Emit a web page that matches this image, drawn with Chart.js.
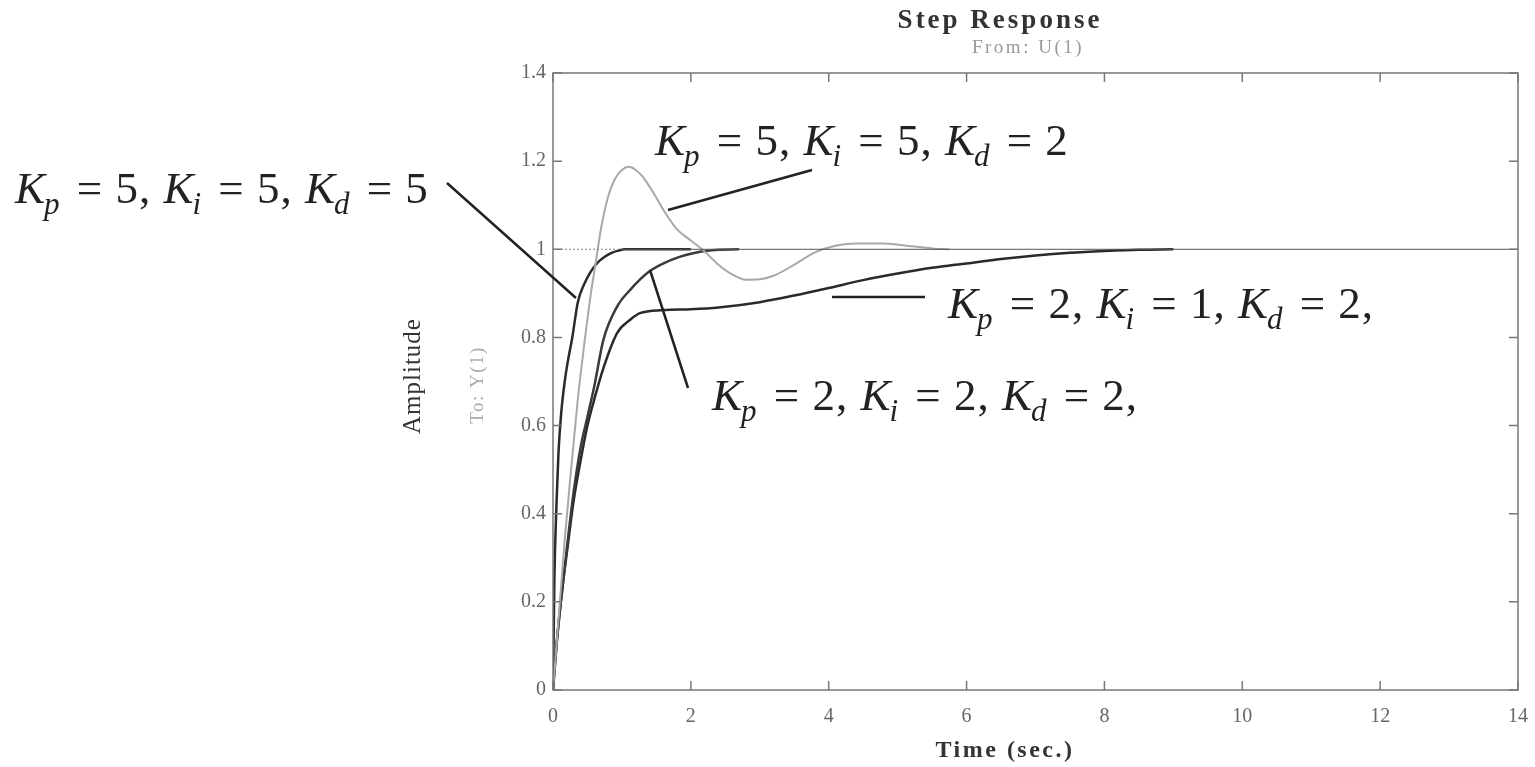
<!DOCTYPE html>
<html>
<head>
<meta charset="utf-8">
<script src="https://cdn.jsdelivr.net/npm/chart.js@4.4.1/dist/chart.umd.min.js"></script>
<style>
  html, body { margin: 0; padding: 0; background: #fff; }
  #wrap { width: 1535px; height: 767px; }
</style>
</head>
<body>
<div id="wrap"><canvas id="step-chart"></canvas></div>
<script>
// Kp=5, Ki=5, Kd=5
var t_555 = [0, 0.02, 0.05, 0.08, 0.12, 0.17, 0.22, 0.28, 0.36, 0.45, 0.55, 0.65, 0.75, 0.85, 0.95, 1.05, 1.5, 2.0];
var y_555 = [0, 0.25, 0.42, 0.54, 0.63, 0.70, 0.75, 0.80, 0.88, 0.92, 0.95, 0.97, 0.983, 0.992, 0.997, 1.0, 1.0, 1.0];

// Kp=5, Ki=5, Kd=2
var t_552 = [0, 0.05, 0.1, 0.17, 0.25, 0.36, 0.45, 0.55, 0.62, 0.7, 0.8, 0.9, 1.0, 1.1, 1.2, 1.3, 1.45, 1.6, 1.8, 2.0, 2.2, 2.4, 2.6, 2.8, 3.0, 3.2, 3.5, 3.8, 4.1, 4.4, 4.8, 5.2, 5.5, 5.75];
var y_552 = [0, 0.1, 0.2, 0.34, 0.48, 0.66, 0.78, 0.9, 0.97, 1.05, 1.12, 1.16, 1.18, 1.187, 1.18, 1.165, 1.13, 1.09, 1.045, 1.02, 0.995, 0.965, 0.943, 0.931, 0.932, 0.94, 0.965, 0.993, 1.008, 1.013, 1.013, 1.007, 1.002, 1.0];

// Kp=2, Ki=2, Kd=2
var t_222 = [0, 0.05, 0.1, 0.15, 0.2, 0.3, 0.4, 0.5, 0.6, 0.73, 0.93, 1.12, 1.4, 1.7, 2.0, 2.3, 2.7];
var y_222 = [0, 0.1, 0.18, 0.25, 0.32, 0.45, 0.55, 0.62, 0.69, 0.794, 0.87, 0.908, 0.95, 0.975, 0.99, 0.998, 1.0];

// Kp=2, Ki=1, Kd=2
var t_212 = [0, 0.05, 0.1, 0.15, 0.2, 0.3, 0.4, 0.5, 0.6, 0.73, 0.93, 1.12, 1.26, 1.6, 2.0, 2.4, 3.0, 3.5, 4.0, 4.5, 5.0, 5.5, 6.0, 6.5, 7.0, 7.5, 8.0, 8.5, 9.0];
var y_212 = [0, 0.1, 0.18, 0.25, 0.31, 0.43, 0.52, 0.6, 0.66, 0.73, 0.81, 0.84, 0.855, 0.862, 0.864, 0.868, 0.88, 0.895, 0.912, 0.93, 0.945, 0.958, 0.968, 0.978, 0.986, 0.992, 0.996, 0.999, 1.0];

// steady state reference (dotted start, solid after)
var t_ref_dot = [0, 1];
var y_ref_dot = [1, 1];
var t_ref = [1, 14];
var y_ref = [1, 1];

var x_ticks = [0, 2, 4, 6, 8, 10, 12, 14];
var y_ticks = [0, 0.2, 0.4, 0.6, 0.8, 1, 1.2, 1.4];

var toPoints = function(ts, ys)
{
	var pts = [];
	for (var i = 0; i < ts.length; i++)
		pts.push({x: ts[i], y: ys[i]});
	return pts;
};

var serif = '"Liberation Serif", "DejaVu Serif", serif';

// draw "K_p = 5, K_i = 5, K_d = 2" style labels
var drawGains = function(ctx, x, y, size, vals, trail)
{
	var subs = ['p', 'i', 'd'];
	ctx.save();
	ctx.fillStyle = '#222';
	ctx.textBaseline = 'alphabetic';
	ctx.textAlign = 'left';
	ctx.letterSpacing = '1px';
	for (var k = 0; k < 3; k++)
	{
		ctx.font = 'italic ' + size + 'px ' + serif;
		ctx.fillText('K', x, y);
		x += ctx.measureText('K').width;
		ctx.font = 'italic ' + Math.round(size * 0.7) + 'px ' + serif;
		ctx.fillText(subs[k], x - 2, y + size * 0.24);
		x += ctx.measureText(subs[k]).width + 2;
		ctx.font = size + 'px ' + serif;
		var rest = ' = ' + vals[k] + (k < 2 ? ', ' : trail);
		ctx.fillText(rest, x, y);
		x += ctx.measureText(rest).width;
	}
	ctx.restore();
};

var decor = {
	id: 'decor',
	afterDraw: function(chart)
	{
		var ctx = chart.ctx;
		var a = chart.chartArea;
		var xs = chart.scales.x;
		var ys = chart.scales.y;

		// axes box
		ctx.save();
		ctx.strokeStyle = '#777';
		ctx.lineWidth = 1.5;
		ctx.strokeRect(a.left, a.top, a.right - a.left, a.bottom - a.top);

		// inward ticks
		ctx.beginPath();
		x_ticks.forEach(function(v) {
			var px = xs.getPixelForValue(v);
			ctx.moveTo(px, a.bottom); ctx.lineTo(px, a.bottom - 9);
			ctx.moveTo(px, a.top); ctx.lineTo(px, a.top + 9);
		});
		y_ticks.forEach(function(v) {
			var py = ys.getPixelForValue(v);
			ctx.moveTo(a.left, py); ctx.lineTo(a.left + 9, py);
			ctx.moveTo(a.right, py); ctx.lineTo(a.right - 9, py);
		});
		ctx.stroke();

		// pointer lines
		ctx.strokeStyle = '#222';
		ctx.lineWidth = 2.5;
		ctx.beginPath();
		ctx.moveTo(447, 183); ctx.lineTo(576, 298);
		ctx.moveTo(812, 170); ctx.lineTo(668, 210);
		ctx.moveTo(832, 297); ctx.lineTo(925, 297);
		ctx.moveTo(650, 270); ctx.lineTo(688, 388);
		ctx.stroke();

		// titles
		ctx.textAlign = 'center';
		ctx.textBaseline = 'middle';
		ctx.fillStyle = '#333';
		ctx.font = 'bold 27px ' + serif;
		ctx.letterSpacing = '3px';
		ctx.fillText('Step Response', 1000, 21);
		ctx.fillStyle = '#999';
		ctx.font = '19px ' + serif;
		ctx.letterSpacing = '2.5px';
		ctx.fillText('From: U(1)', 1028, 48);
		ctx.fillStyle = '#333';
		ctx.font = 'bold 24px ' + serif;
		ctx.letterSpacing = '2.5px';
		ctx.fillText('Time (sec.)', 1005, 751);

		ctx.save();
		ctx.translate(413, 376);
		ctx.rotate(-Math.PI / 2);
		ctx.fillStyle = '#333';
		ctx.font = '25px ' + serif;
		ctx.letterSpacing = '1px';
		ctx.fillText('Amplitude', 0, 0);
		ctx.restore();

		ctx.save();
		ctx.translate(478, 385);
		ctx.rotate(-Math.PI / 2);
		ctx.fillStyle = '#aaa';
		ctx.font = '19px ' + serif;
		ctx.letterSpacing = '1.5px';
		ctx.fillText('To: Y(1)', 0, 0);
		ctx.restore();
		ctx.letterSpacing = '0px';
		ctx.restore();

		drawGains(ctx, 15, 203, 45, [5, 5, 5], '');
		drawGains(ctx, 655, 155, 45, [5, 5, 2], '');
		drawGains(ctx, 948, 318, 45, [2, 1, 2], ',');
		drawGains(ctx, 712, 410, 45, [2, 2, 2], ',');
	}
};

var step_chart = new Chart(document.getElementById("step-chart"),
{
	type: 'line',
	data: {
		datasets: [
		{
			label: 'ref dotted',
			data: toPoints(t_ref_dot, y_ref_dot),
			borderColor: '#888',
			borderWidth: 1,
			borderDash: [2, 2],
			pointRadius: 0
		},
		{
			label: 'ref',
			data: toPoints(t_ref, y_ref),
			borderColor: '#555',
			borderWidth: 1,
			pointRadius: 0
		},
		{
			label: 'Kp=5, Ki=5, Kd=2',
			data: toPoints(t_552, y_552),
			borderColor: '#a8a8a8',
			borderWidth: 2,
			pointRadius: 0,
			cubicInterpolationMode: 'monotone'
		},
		{
			label: 'Kp=5, Ki=5, Kd=5',
			data: toPoints(t_555, y_555),
			borderColor: '#2a2a2a',
			borderWidth: 2.5,
			pointRadius: 0,
			cubicInterpolationMode: 'monotone'
		},
		{
			label: 'Kp=2, Ki=2, Kd=2',
			data: toPoints(t_222, y_222),
			borderColor: '#3a3a3a',
			borderWidth: 2.5,
			pointRadius: 0,
			cubicInterpolationMode: 'monotone'
		},
		{
			label: 'Kp=2, Ki=1, Kd=2',
			data: toPoints(t_212, y_212),
			borderColor: '#2a2a2a',
			borderWidth: 2.5,
			pointRadius: 0,
			cubicInterpolationMode: 'monotone'
		}]
	},
	options: {
		responsive: true,
		maintainAspectRatio: false,
		animation: false,
		layout: {
			padding: {left: 493, right: 17, top: 73, bottom: 37}
		},
		plugins: {
			legend: { display: false },
			title: { display: false },
			tooltip: { enabled: false }
		},
		scales: {
			x: {
				type: 'linear',
				min: 0,
				max: 14,
				afterFit: function(axis) {
					axis.height = 40;
					axis.paddingLeft = 0;
					axis.paddingRight = 0;
				},
				grid: { display: false, drawTicks: false },
				border: { display: false },
				ticks: {
					stepSize: 2,
					padding: 15,
					color: '#666',
					font: { family: serif, size: 20 },
					maxRotation: 0
				}
			},
			y: {
				type: 'linear',
				min: 0,
				max: 1.4,
				afterFit: function(axis) {
					axis.width = 60;
					axis.paddingTop = 0;
					axis.paddingBottom = 0;
				},
				grid: { display: false, drawTicks: false },
				border: { display: false },
				ticks: {
					stepSize: 0.2,
					padding: 7,
					color: '#666',
					font: { family: serif, size: 20 },
					callback: function(v) { return String(+v.toFixed(1)); }
				}
			}
		}
	},
	plugins: [decor]
});
</script>
</body>
</html>
